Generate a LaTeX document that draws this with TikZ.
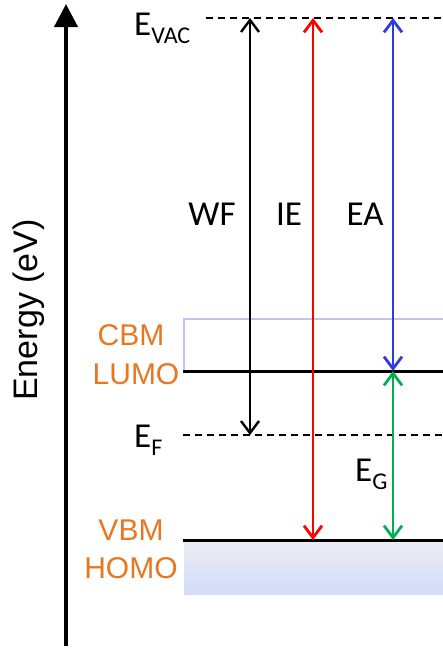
\documentclass[tikz,border=0pt]{standalone}
\usepackage{fontspec}
\setmainfont{Carlito}
\newfontfamily\arialf{Liberation Sans}
\usetikzlibrary{arrows.meta}
\definecolor{lvlorange}{RGB}{232,119,34}
\definecolor{arrred}{RGB}{255,0,0}
\definecolor{arrblue}{RGB}{45,60,225}
\definecolor{arrgreen}{RGB}{0,176,80}
\definecolor{cbmedge}{RGB}{196,196,240}
\definecolor{vbmtop}{RGB}{236,237,243}
\definecolor{vbmbot}{RGB}{208,220,250}
\tikzset{
  level/.style={line width=3pt, line cap=butt},
  reflevel/.style={line width=1.4pt, dash pattern=on 7pt off 5pt},
  gap/.style={line width=2.8pt, {Straight Barb[length=12pt,width=18pt]}-{Straight Barb[length=12pt,width=18pt]}},
  blacklbl/.style={inner sep=0pt, font=\fontsize{35}{35}\selectfont},
  bandlbl/.style={inner sep=0pt, text=lvlorange, font=\arialf\fontsize{30}{30}\selectfont},
}
\newcommand{\subidx}[1]{{\fontsize{24}{24}\selectfont\raisebox{-8pt}{#1}}}
\begin{document}
\begin{tikzpicture}[x=1pt,y=-1pt]
\useasboundingbox (0,0) rectangle (443,648);

% energy axis
\coordinate (axbot) at (66,646);
\coordinate (axtop) at (66,4);
\draw[line width=4pt, -{Triangle[length=23pt,width=23pt]}] (axbot) -- (axtop);
\node[rotate=90, anchor=base, inner sep=0pt, font=\arialf\fontsize{34}{34}\selectfont] (elabel) at (37,310) {Energy (eV)};

% bands
\fill[top color=vbmtop, bottom color=vbmbot] (184,541) rectangle (443,594);
\draw[cbmedge, line width=2.2pt] (443,319) -- (184,319) -- (184,371);

% level lines
\coordinate (vacL) at (206,18);  \coordinate (vacR) at (443,18);
\coordinate (lumoL) at (183,371); \coordinate (lumoR) at (443,371);
\coordinate (efL) at (183,435);  \coordinate (efR) at (443,435);
\coordinate (homoL) at (183,540); \coordinate (homoR) at (443,540);
\draw[reflevel] (vacL) -- (vacR);
\draw[reflevel] (efL) -- (efR);
\draw[level] (lumoL) -- (lumoR);
\draw[level] (homoL) -- (homoR);

% transitions
\coordinate (wfT) at (250,18);  \coordinate (wfB) at (250,435);
\coordinate (ieT) at (313,18);  \coordinate (ieB) at (313,540);
\coordinate (eaT) at (393,18);  \coordinate (eaB) at (393,371);
\coordinate (egT) at (393,371); \coordinate (egB) at (393,540);
\draw[gap, line width=2.4pt, black] (wfT) -- (wfB);
\draw[gap, arrred] (ieT) -- (ieB);
\draw[gap, arrblue] (eaT) -- (eaB);
\draw[gap, arrgreen] (egT) -- (egB);

% labels
\node[blacklbl, anchor=base west] (evac) at (134,35) {E\subidx{VAC}};
\node[blacklbl, anchor=base west] (ef) at (134,447) {E\subidx{F}};
\node[blacklbl, anchor=base west] (eg) at (355,481) {E\subidx{G}};
\node[blacklbl, anchor=base] (wf) at (212,225) {WF};
\node[blacklbl, anchor=base] (ie) at (289,225) {IE};
\node[blacklbl, anchor=base] (ea) at (365,225) {EA};
\node[bandlbl, anchor=base] (cbm) at (131,345) {CBM};
\node[bandlbl, anchor=base] (lumo) at (136,384) {LUMO};
\node[bandlbl, anchor=base] (vbm) at (131,540) {VBM};
\node[bandlbl, anchor=base] (homo) at (131,578) {HOMO};
\end{tikzpicture}
\end{document}
